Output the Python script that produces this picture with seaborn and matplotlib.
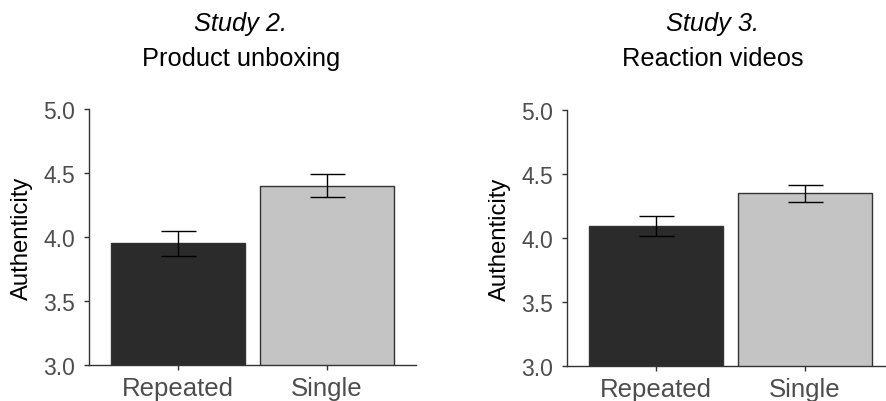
import numpy as np
import pandas as pd
import matplotlib
matplotlib.use("Agg")
import matplotlib.pyplot as plt
import seaborn as sns

# values
conditions = ["Repeated", "Single"]
study2_means = [3.95, 4.40]
study2_err = [0.10, 0.09]
study3_means = [4.095, 4.35]
study3_err = [0.077, 0.067]

titles_top = ["Study 2.", "Study 3."]
titles_bottom = ["Product unboxing", "Reaction videos"]
y_ticks = [3.0, 3.5, 4.0, 4.5, 5.0]

bar_colors = {"Repeated": "#2b2b2b", "Single": "#c4c4c4"}

sns.set_theme(style="ticks")
plt.rcParams["font.family"] = ["Liberation Sans", "DejaVu Sans"]

fig = plt.figure(figsize=(8.86, 4.02), dpi=100)

panels = [
    (study2_means, study2_err, [89 / 886, 0.0896, 327 / 886, 0.637], 241 / 886),
    (study3_means, study3_err, [567 / 886, 0.087, 327 / 886, 0.637], 713 / 886),
]

for i, (means, errs, rect, tx) in enumerate(panels):
    ax = fig.add_axes(rect)
    df = pd.DataFrame({"Condition": conditions, "Authenticity": means})
    sns.barplot(data=df, x="Condition", y="Authenticity", hue="Condition",
                palette=bar_colors, width=0.9, edgecolor="#333333",
                linewidth=1.0, legend=False, ax=ax)
    ax.errorbar(np.arange(len(conditions)), means, yerr=errs, fmt="none",
                ecolor="black", elinewidth=1.0, capsize=12.6, capthick=1.0,
                zorder=5)
    ax.set_xlim(-0.6, 1.6)
    ax.set_ylim(3.0, 5.0)
    ax.set_yticks(y_ticks)
    ax.set_yticklabels([f"{t:.1f}" for t in y_ticks])
    ax.set_xlabel("")
    ax.set_ylabel("Authenticity", fontsize=17.2, color="black", labelpad=7)
    ax.tick_params(axis="y", labelsize=16.5, labelcolor="#4d4d4d",
                   color="#333333", length=3.6, width=1.0, pad=6.5)
    ax.tick_params(axis="x", labelsize=18.5, labelcolor="#4d4d4d",
                   color="#333333", length=3.6, width=1.0, pad=4.0)
    for side in ["left", "bottom"]:
        ax.spines[side].set_color("#333333")
        ax.spines[side].set_linewidth(1.0)
    sns.despine(ax=ax)

    fig.text(tx, 1 - 31 / 402, titles_top[i], ha="center", va="baseline",
             fontsize=18.3, style="italic", color="black")
    fig.text(tx, 1 - 66 / 402, titles_bottom[i], ha="center", va="baseline",
             fontsize=18.3, color="black")

plt.savefig("out.png", dpi=100)
